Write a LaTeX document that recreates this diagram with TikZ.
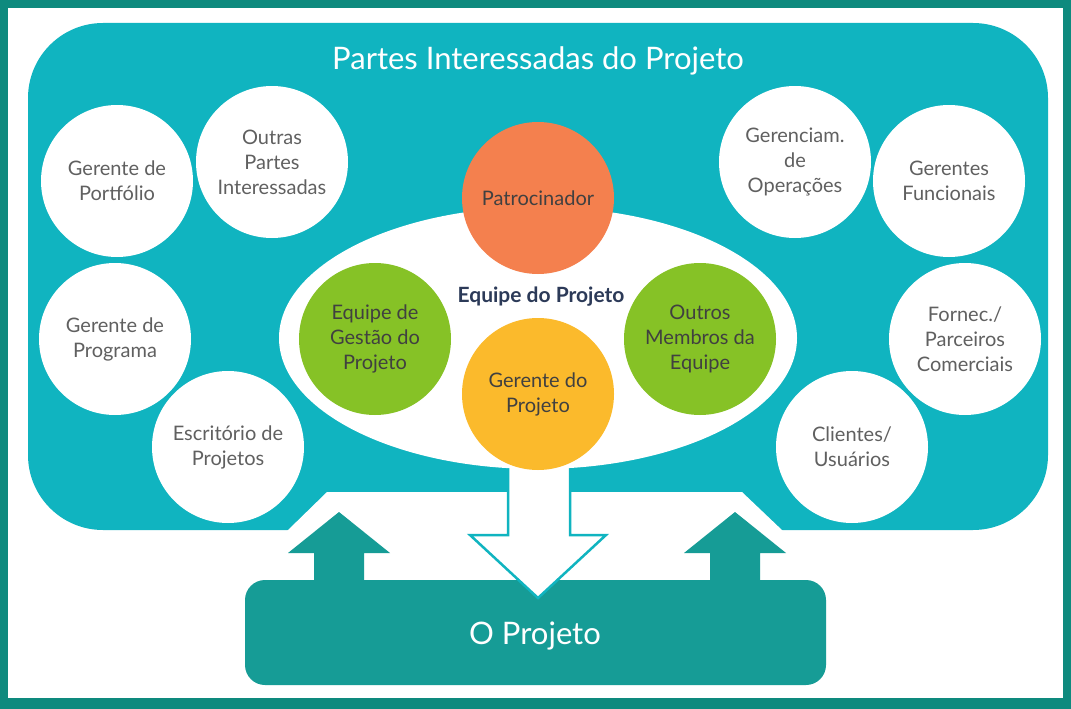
\documentclass[tikz,border=0pt]{standalone}
\usepackage{fontspec}
\setmainfont{Lato}
\usetikzlibrary{shapes.geometric}
\definecolor{frameteal}{RGB}{14,138,126}
\definecolor{panelteal}{RGB}{16,180,192}
\definecolor{boxteal}{RGB}{22,156,150}
\definecolor{sponsorcol}{RGB}{244,128,78}
\definecolor{managercol}{RGB}{251,186,44}
\definecolor{teamgreen}{RGB}{134,194,38}
\definecolor{greytext}{RGB}{96,96,96}
\definecolor{darktext}{RGB}{64,64,64}
\definecolor{navytext}{RGB}{44,58,88}

\begin{document}
\begin{tikzpicture}[x=1pt,y=-1pt,
  party/.style={circle,fill=white,minimum size=152pt,inner sep=0pt,align=center,text=greytext,font=\fontsize{20}{25}\selectfont},
  team/.style={circle,minimum size=152pt,inner sep=0pt,align=center,text=darktext,font=\fontsize{20}{25}\selectfont},
  bigtext/.style={text=white,font=\fontsize{31}{36}\selectfont}]
\useasboundingbox (0,0) rectangle (1071,709);
\fill[frameteal] (0,0) rectangle (1071,709);
\fill[white] (8,8) rectangle (1063,698);

\fill[panelteal, rounded corners=75pt] (28,23) rectangle (1048,530);
\fill[white] (287,531) -- (327,492) -- (742,492) -- (783,531) -- cycle;

\foreach \c in {339,735}
  \fill[boxteal] (\c-25,590) -- (\c-25,553) -- (\c-51,553) -- (\c,512) -- (\c+51,553) -- (\c+25,553) -- (\c+25,590) -- cycle;
\node[fill=boxteal, rounded corners=20pt, minimum width=581pt, minimum height=105pt, inner sep=0pt] (projeto) at (535.5,632.5) {};
\filldraw[fill=white, draw=panelteal, line width=2.5pt, line join=miter] (508,440) -- (508,535) -- (470,535) -- (538,598) -- (606,535) -- (570,535) -- (570,440) -- cycle;
\node[bigtext] (projlabel) at (535,636) {O Projeto};

\node[ellipse, fill=white, minimum width=518pt, minimum height=262pt, inner sep=0pt] (equipe) at (538,338) {};
\node[team, fill=sponsorcol] (patro) at (538,198) {Patrocinador};
\node[team, fill=teamgreen] (gestao) at (375,339) {Equipe de\\Gestão do\\Projeto};
\node[team, fill=teamgreen] (membros) at (700,339) {Outros\\Membros da\\Equipe};
\node[team, fill=managercol] (gerente) at (538,394) {Gerente do\\Projeto};
\node[text=navytext, font=\bfseries\fontsize{21}{25}\selectfont] (equipelabel) at (541,297) {Equipe do Projeto};

\node[party] (portf) at (117,181) {Gerente de\\Portfólio};
\node[party] (outras) at (272,162) {Outras\\Partes\\Interessadas};
\node[party] (progr) at (115,339) {Gerente de\\Programa};
\node[party] (escrit) at (228,447) {Escritório de\\Projetos};
\node[party] (operac) at (795,162) {Gerenciam.\\de\\Operações};
\node[party] (funcion) at (949,181) {Gerentes\\Funcionais};
\node[party] (fornec) at (965,339) {Fornec./\\Parceiros\\Comerciais};
\node[party] (clientes) at (852,447) {Clientes/\\Usuários};

\node[bigtext] (title) at (538,61) {Partes Interessadas do Projeto};
\end{tikzpicture}
\end{document}
